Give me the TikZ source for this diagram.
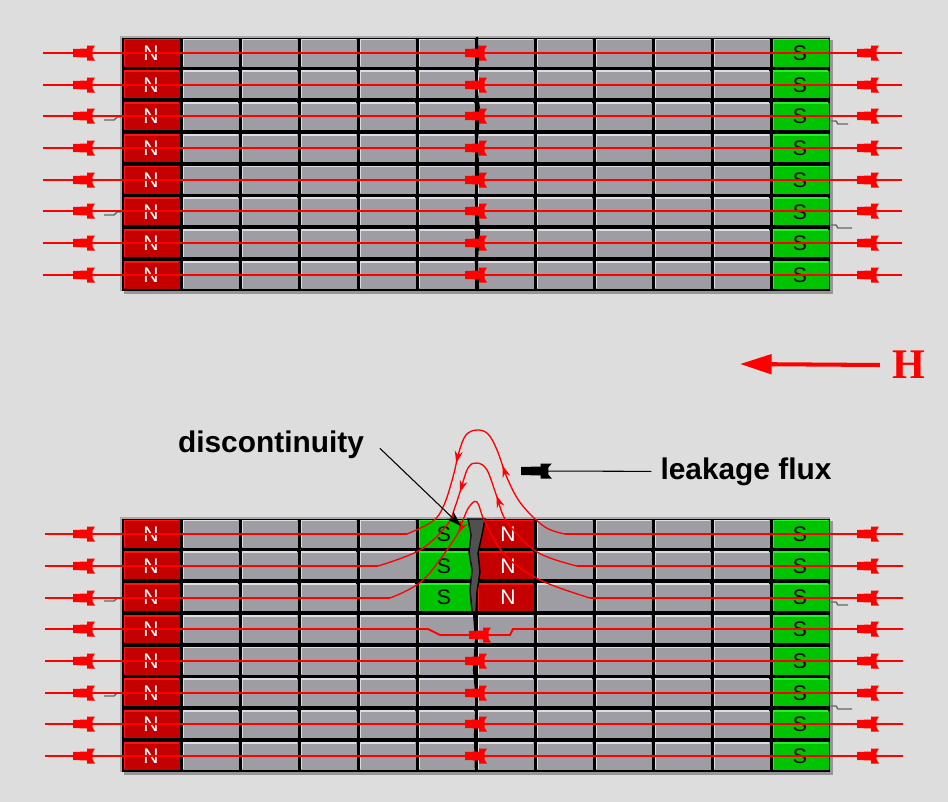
\documentclass[tikz,border=0pt]{standalone}
\usepackage{fontspec}
\usepackage{tikz}
\usetikzlibrary{arrows.meta, decorations.markings}
\newfontfamily\labelfont{Liberation Sans}
\newfontfamily\hfont{Liberation Serif}

\definecolor{fondo}{RGB}{221,221,221}
\definecolor{gris}{RGB}{158,157,163}
\definecolor{grisclaro}{RGB}{222,222,226}
\definecolor{rojo}{RGB}{196,0,0}
\definecolor{rojoclaro}{RGB}{255,20,20}
\definecolor{verde}{RGB}{0,196,0}
\definecolor{verdeclaro}{RGB}{40,240,40}
\definecolor{sombra}{RGB}{150,150,150}
\definecolor{marco}{RGB}{170,170,170}
\definecolor{grieta}{RGB}{80,80,80}
\definecolor{fluxred}{RGB}{255,0,0}

\tikzset{
  fluxline/.style={draw=fluxred, line width=1.1pt},
  leakline/.style={draw=fluxred, line width=0.75pt},
  leakarrow/.style={postaction={decorate, decoration={markings,
      mark=at position #1 with {\arrow{Stealth[length=7pt, width=4.5pt]}}}}},
  fuga/.style={draw=gray!80!black, line width=0.8pt},
  pointer/.style={draw=black, line width=0.6pt},
  polo/.style={font=\labelfont\fontsize{12}{14}\selectfont, inner sep=0pt},
  etiqueta/.style={font=\labelfont\bfseries\fontsize{17}{20}\selectfont, inner sep=0pt},
  hletra/.style={font=\hfont\bfseries\fontsize{24}{28}\selectfont, text=fluxred, inner sep=0pt},
  pics/dart/.style={code={
    \fill[#1] (0,-4) -- (14,-4.5) -- (14,-7.5) -- (22,-7.5) -- (19.5,-3.5) -- (19.5,3.5)
      -- (22,7.5) -- (14,7.5) -- (14,4.5) -- (0,4) -- cycle;
  }}
}

% una celda con brillo arriba e izquierda
\newcommand{\celda}[4]{% x, y, relleno, brillo
  \fill[#3] (#1+2,#2+2) rectangle (#1+57.5,#2+29.5);
  \draw[#4, line width=1pt] (#1+2.4,#2+29) -- (#1+2.4,#2+2.4) -- (#1+57,#2+2.4);
}

% barra magnetizada de 8 x 12 celdas
\newcommand{\barra}[2]{% #1 = nombre, #2 = borde superior
  \fill[sombra] (124,#2+3) rectangle (833,#2+257);
  \fill[black] (121,#2) rectangle (830,#2+254);
  \draw[marco, line width=0.6pt] (121,#2+254) -- (121,#2) -- (830,#2);
  \foreach \r in {0,...,7} {
    \celda{122}{#2+\r*31.75}{rojo}{rojoclaro}
    \node[polo, text=white] (#1-n\r) at (151,#2+\r*31.75+16) {N};
    \foreach \c in {1,...,10} {
      \celda{122+\c*59}{#2+\r*31.75}{gris}{grisclaro}
    }
    \celda{771}{#2+\r*31.75}{verde}{verdeclaro}
    \node[polo, text=black] (#1-s\r) at (800,#2+\r*31.75+16) {S};
  }
  % fugas pequeñas en los bordes
  \draw[fuga] (104,#2+83) -- (114,#2+83) -- (117,#2+80) -- (121,#2+80);
  \draw[fuga] (104,#2+178) -- (114,#2+178) -- (117,#2+175) -- (121,#2+175);
  \draw[fuga] (831,#2+84) -- (836,#2+84) -- (838,#2+87) -- (848,#2+87);
  \draw[fuga] (831,#2+188) -- (836,#2+188) -- (838,#2+191) -- (852,#2+191);
}

\begin{document}
\begin{tikzpicture}[x=0.02cm, y=-0.02cm]

  \fill[fondo] (0,0) rectangle (948,802);
  \useasboundingbox (0,0) rectangle (948,802);

  % Barra sin defecto
  \barra{top}{37}
  \draw[black, line width=1.3pt] (477,37) -- (478,60) -- (476,85) -- (479,110) -- (477,140)
    -- (478,170) -- (476,200) -- (479,230) -- (477,260) -- (478,291);

  \foreach \y in {53,85,116,148,180,211,243,275} {
    \draw[fluxline] (902,\y) -- (43,\y);
    \foreach \x in {73,465,857}
      \pic at (\x,\y) {dart=fluxred};
  }

  % Barra con grieta
  \barra{bot}{518}
  \foreach \r in {0,1,2} {
    \celda{417}{518+\r*31.75}{verde}{verdeclaro}
    \node[polo, text=black] (crack-s\r) at (444,518+\r*31.75+16) {S};
    \celda{476}{518+\r*31.75}{rojo}{rojoclaro}
    \node[polo, text=white] (crack-n\r) at (508,518+\r*31.75+16) {N};
  }
  \filldraw[fill=grieta, draw=black, line width=0.8pt] (468,519) -- (471,535) -- (469,552)
    -- (472,570) -- (470,590) -- (472,612) -- (476,612) -- (477,592) -- (480,572)
    -- (478,553) -- (482,535) -- (485,519) -- cycle;
  \draw[black, line width=1.3pt] (474,612) -- (476,640) -- (474,670) -- (477,700)
    -- (475,735) -- (476,772);

  % Lineas de campo inferiores
  \foreach \y in {661,693,724,756} {
    \draw[fluxline] (903,\y) -- (45,\y);
    \foreach \x in {73,465,857}
      \pic at (\x,\y) {dart=fluxred};
  }
  \draw[fluxline] (903,629) -- (513,629) -- (510,635) -- (440,635) -- (428,629) -- (45,629);
  \foreach \x in {73,857}
    \pic at (\x,629) {dart=fluxred};
  \pic at (469,635) {dart=fluxred};

  % Lineas que salen por la grieta
  \draw[fluxline] (903,534) -- (565,534);
  \draw[fluxline] (407,534) -- (45,534);
  \draw[fluxline] (903,566) -- (577,566);
  \draw[fluxline] (378,566) -- (45,566);
  \draw[fluxline] (903,598) -- (590,598);
  \draw[fluxline] (390,598) -- (45,598);
  \foreach \y in {534,566,598} {
    \pic at (73,\y) {dart=fluxred};
    \pic at (857,\y) {dart=fluxred};
  }

  % Flujo de fuga
  \draw[leakline, leakarrow=0.35, leakarrow=0.67] plot[smooth, tension=0.6] coordinates {
    (565,534) (545,527) (522,505) (508,480) (497,450) (488,434) (477,430)
    (466,435) (459,452) (453,477) (444,505) (433,521) (407,534)};
  \draw[leakline, leakarrow=0.37, leakarrow=0.62] plot[smooth, tension=0.6] coordinates {
    (577,566) (537,552) (507,522) (497,497) (487,470) (477,463)
    (468,468) (460,492) (455,507) (447,525) (420,550) (378,566)};
  \draw[leakline, leakarrow=0.67] plot[smooth, tension=0.6] coordinates {
    (590,598) (540,580) (505,555) (485,522) (477,502)
    (469,507) (463,520) (455,538) (423,580) (390,598)};

  % Etiquetas
  \node[etiqueta, anchor=base] (disc) at (271,452) {discontinuity};
  \node[etiqueta, anchor=base] (leak) at (746,479) {leakage flux};
  \node[hletra] (hlabel) at (909,365) {H};

  \coordinate (crack) at (461,526);
  \coordinate (leaktip) at (521,471);
  \coordinate (htip) at (740,364);

  \draw[pointer, -{Stealth[length=9pt, width=6pt]}] ([xshift=8.9pt, yshift=-2.3pt]disc.east) -- (crack);
  \draw[pointer] ([xshift=-5pt]leak.west) -- (leaktip);
  \pic[xscale=1.4] at (leaktip) {dart=black};
  \draw[fluxred, line width=2.3pt, -{Triangle[length=18pt, width=11pt]}]
    ([xshift=-7pt]hlabel.west) -- (htip);

\end{tikzpicture}
\end{document}
